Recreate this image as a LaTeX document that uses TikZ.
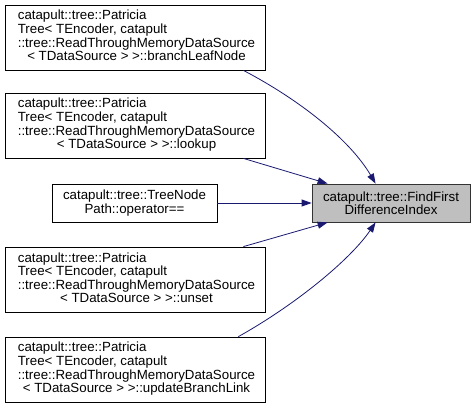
\documentclass[tikz,border=0pt]{standalone}
\usepackage{fontspec}
\setmainfont{Liberation Sans}
\usetikzlibrary{arrows.meta}
\definecolor{edgeblue}{HTML}{191970}
\definecolor{hilite}{HTML}{BFBFBF}
\newcommand{\fourlines}[4]{\begin{tabular}{@{}l@{}}#1\\#2\\#3\\\multicolumn{1}{@{}c@{}}{#4}\end{tabular}}
\begin{document}
\begin{tikzpicture}[x=1pt,y=-1pt,
  font=\fontsize{13.3}{13.3}\selectfont,
  fnbox/.style={draw=black,line width=0.8pt,fill=white,inner sep=0pt,minimum width=260pt,minimum height=65pt,align=center},
  smallbox/.style={draw=black,line width=0.8pt,fill=white,inner sep=0pt,minimum width=165pt,minimum height=38pt,align=center},
  targetbox/.style={draw=black!80,line width=0.8pt,fill=hilite,inner sep=0pt,minimum width=158pt,minimum height=38pt,align=center},
  edge/.style={draw=edgeblue,line width=0.8pt,-{Triangle[length=10pt,width=7pt]}}]
\useasboundingbox (0,0) rectangle (476,407);
\node[fnbox] (b1) at (135,37.5) {\hspace*{3pt}\fourlines{catapult::tree::Patricia}{Tree< TEncoder, catapult}{::tree::ReadThroughMemoryDataSource}{< TDataSource > >::branchLeafNode}};
\node[fnbox] (b2) at (135,125.5) {\hspace*{3pt}\fourlines{catapult::tree::Patricia}{Tree< TEncoder, catapult}{::tree::ReadThroughMemoryDataSource}{< TDataSource > >::lookup}};
\node[smallbox] (b3) at (134.5,203) {catapult::tree::TreeNode\\Path::operator==};
\node[fnbox] (b4) at (135,279.5) {\hspace*{3pt}\fourlines{catapult::tree::Patricia}{Tree< TEncoder, catapult}{::tree::ReadThroughMemoryDataSource}{< TDataSource > >::unset}};
\node[fnbox] (b5) at (135,369.5) {\hspace*{3pt}\fourlines{catapult::tree::Patricia}{Tree< TEncoder, catapult}{::tree::ReadThroughMemoryDataSource}{< TDataSource > >::updateBranchLink}};
\node[targetbox] (t) at (391,203) {catapult::tree::FindFirst\\DifferenceIndex};
\coordinate (s1) at ([xshift=-22pt]b1.south east);
\coordinate (e1) at ([xshift=64pt]t.north west);
\coordinate (s2) at ([xshift=-22pt]b2.south east);
\coordinate (e2) at ([xshift=16pt]t.north west);
\coordinate (s4) at ([xshift=-22pt]b4.north east);
\coordinate (e4) at ([xshift=16pt]t.south west);
\coordinate (s5) at ([xshift=-27pt]b5.north east);
\coordinate (e5) at ([xshift=64pt]t.south west);
\draw[edge] (s1) .. controls (300,100) and (350,140) .. (e1);
\draw[edge] (s2) -- (e2);
\draw[edge] (b3.east) -- (t.west);
\draw[edge] (s4) -- (e4);
\draw[edge] (s5) .. controls (295,305) and (350,260) .. (e5);
\end{tikzpicture}
\end{document}
